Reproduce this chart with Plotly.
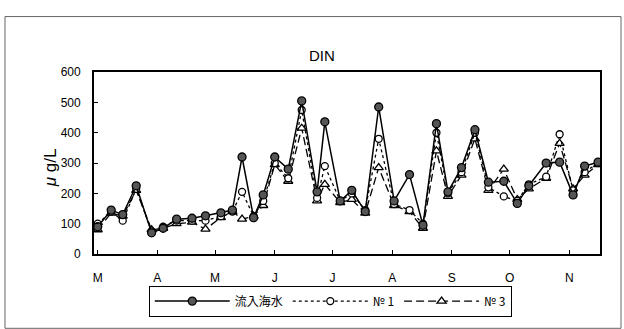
import plotly.graph_objects as go

dates = ["2001-03-01", "2001-03-08", "2001-03-14", "2001-03-21", "2001-03-29",
         "2001-04-04", "2001-04-11", "2001-04-19", "2001-04-26", "2001-05-04",
         "2001-05-10", "2001-05-15", "2001-05-21", "2001-05-26", "2001-06-01",
         "2001-06-08", "2001-06-15", "2001-06-23", "2001-06-27", "2001-07-05",
         "2001-07-11", "2001-07-18", "2001-07-25", "2001-08-02", "2001-08-10",
         "2001-08-17", "2001-08-24", "2001-08-30", "2001-09-06", "2001-09-13",
         "2001-09-20", "2001-09-28", "2001-10-05", "2001-10-11", "2001-10-20",
         "2001-10-27", "2001-11-03", "2001-11-09", "2001-11-16"]

inflow = [90, 145, 130, 225, 70, 85, 115, 118, 126, 136, 145, 320, 120, 195, 320,
          280, 505, 205, 436, 175, 210, 140, 485, 175, 262, 95, 430, 205, 285, 410,
          237, 240, 167, 225, 300, 303, 195, 290, 303]
no1 = [100, 140, 110, 215, 75, 90, 110, 110, 110, 125, 140, 205, 125, 175, 300,
       250, 475, 185, 290, 175, 200, 145, 380, 165, 145, 100, 400, 200, 270, 400,
       220, 190, 175, 230, 255, 395, 210, 270, 300]
no3 = [80, 135, 125, 210, 80, 85, 100, 105, 82, 120, 140, 115, 125, 160, 295,
       240, 415, 175, 230, 170, 180, 135, 285, 160, 140, 85, 340, 190, 260, 380,
       210, 280, 180, 215, 250, 365, 215, 260, 295]

month_ticks = ["2001-03-01", "2001-04-01", "2001-05-01", "2001-06-01", "2001-07-01",
               "2001-08-01", "2001-09-01", "2001-10-01", "2001-11-01"]
month_labels = ["M", "A", "M", "J", "J", "A", "S", "O", "N"]
y_ticks = [0, 100, 200, 300, 400, 500, 600]

W, H = 624, 329
fig = go.Figure()

fig.add_trace(go.Scatter(
    x=dates, y=no3, name="\u2116 3", mode="lines+markers", legendrank=3,
    line=dict(color="black", width=1.3, dash="8px,4px"),
    marker=dict(symbol="triangle-up", size=8, color="white",
                line=dict(color="black", width=1.3))))
fig.add_trace(go.Scatter(
    x=dates, y=no1, name="\u2116 1", mode="lines+markers", legendrank=2,
    line=dict(color="black", width=1.3, dash="3px,3px"),
    marker=dict(symbol="circle", size=7, color="white",
                line=dict(color="black", width=1.3))))
fig.add_trace(go.Scatter(
    x=dates, y=inflow, name="流入海水", mode="lines+markers", legendrank=1,
    line=dict(color="black", width=1.5),
    marker=dict(symbol="circle", size=8, color="#555555",
                line=dict(color="black", width=1.3))))

fig.update_layout(
    width=W, height=H,
    margin=dict(l=0, r=0, t=0, b=0),
    paper_bgcolor="white", plot_bgcolor="white",
    font=dict(family="Liberation Sans, Arial, Noto Sans CJK JP", color="black", size=12),
    xaxis=dict(domain=[93 / W, 600 / W], range=["2001-02-27", "2001-11-17"],
               tickvals=month_ticks, ticktext=month_labels, ticks="inside",
               ticklen=4, tickcolor="black", showgrid=False, zeroline=False,
               showline=True, linecolor="black", linewidth=1.5, mirror=True,
               ticklabelstandoff=12, tickfont=dict(size=12)),
    yaxis=dict(domain=[1 - 258 / H, 1 - 68 / H], range=[0, 600],
               tickvals=y_ticks, ticks="inside", ticklen=4, tickcolor="black",
               showgrid=False, zeroline=False, showline=True, linecolor="black",
               linewidth=1.5, mirror=True, ticklabelstandoff=9,
               tickfont=dict(size=12)),
    legend=dict(orientation="h", x=148 / W, y=1 - 291 / H, xanchor="left",
                yanchor="top", bordercolor="black", borderwidth=1,
                bgcolor="white", font=dict(size=12, family="Noto Sans CJK JP"),
                itemwidth=75, traceorder="normal"),
    shapes=[dict(type="rect", xref="paper", yref="paper", x0=4 / W, x1=621 / W,
                 y0=-0.02, y1=1 - 10 / H, line=dict(color="#666666", width=1))],
    annotations=[
        dict(text="DIN", xref="paper", yref="paper", x=322 / W, y=1 - 40 / H,
             showarrow=False, font=dict(size=15, family="Liberation Sans, Arial")),
        dict(text="<i>\u03bc</i> g/L", xref="paper", yref="paper", x=38 / W,
             y=1 - 168 / H, showarrow=False, textangle=-90,
             font=dict(size=17, family="Liberation Sans, Arial")),
    ],
)

fig.write_html("out.html", config={"displayModeBar": False},
               post_script="document.body.style.margin='0';document.body.style.overflow='hidden';")
